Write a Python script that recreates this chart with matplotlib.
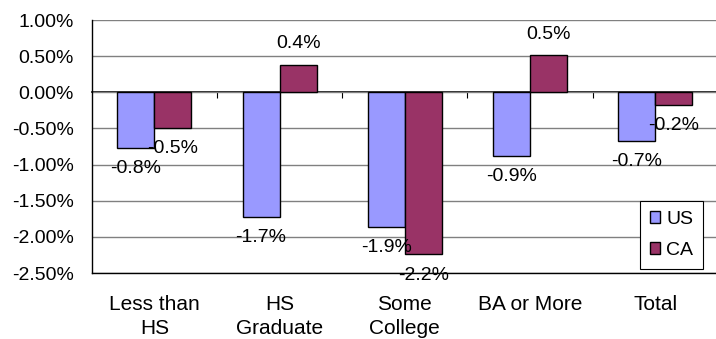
"""
Change in employment share by education level, US vs CA.
Grouped bar chart with value labels at the bar ends.
"""

import matplotlib

matplotlib.use("Agg")
import matplotlib.pyplot as plt
import numpy as np
from matplotlib.patches import Patch
from matplotlib.ticker import FuncFormatter, MultipleLocator

CATEGORIES = ["Less than\nHS", "HS\nGraduate", "Some\nCollege", "BA or More", "Total"]
US_CHANGE = [-0.77, -1.72, -1.86, -0.88, -0.67]
CA_CHANGE = [-0.49, 0.38, -2.24, 0.51, -0.17]
SERIES_NAMES = ["US", "CA"]

US_COLOR = "#9999FF"
CA_COLOR = "#993366"
GRID_COLOR = "#808080"
FONT_SIZE = 14

plt.rcParams["font.family"] = ["Liberation Sans", "DejaVu Sans"]


def label_bars(ax, bars, values):
    """Write the rounded value just beyond the end of each bar."""
    for bar, value in zip(bars, values):
        x = bar.get_x() + bar.get_width() / 2
        offset = 15 if value >= 0 else -15
        ax.annotate(
            f"{value:.1f}%",
            xy=(x, value),
            xytext=(0, offset),
            textcoords="offset points",
            ha="center",
            va="center",
            fontsize=FONT_SIZE,
            zorder=5,
        )


def plot_chart(out="out.png"):
    fig = plt.figure(figsize=(7.16, 3.39), dpi=100)
    ax = fig.add_axes([91.7 / 716, 1 - 273 / 339, 626.3 / 716, 253 / 339])

    x = np.arange(len(CATEGORIES))
    width = 0.295

    us_bars = ax.bar(x - width / 2, US_CHANGE, width, color=US_COLOR,
                     edgecolor="black", linewidth=1.0, zorder=3)
    ca_bars = ax.bar(x + width / 2, CA_CHANGE, width, color=CA_COLOR,
                     edgecolor="black", linewidth=1.0, zorder=3)
    label_bars(ax, us_bars, US_CHANGE)
    label_bars(ax, ca_bars, CA_CHANGE)

    ax.set_xlim(-0.5, len(CATEGORIES) - 0.5)
    ax.set_ylim(-2.5, 1.0)
    ax.yaxis.set_major_locator(MultipleLocator(0.5))
    ax.yaxis.set_major_formatter(FuncFormatter(lambda v, _: f"{v:.2f}%"))
    ax.grid(axis="y", color=GRID_COLOR, linewidth=1.0, zorder=0)
    ax.set_axisbelow(True)

    ax.set_xticks(x)
    ax.set_xticklabels(CATEGORIES, fontsize=15, linespacing=1.35)
    ax.tick_params(axis="x", length=0, pad=16)
    ax.tick_params(axis="y", length=0, pad=13, labelsize=FONT_SIZE)

    for side in ("top", "right"):
        ax.spines[side].set_visible(False)
    for side in ("left", "bottom"):
        ax.spines[side].set_color("black")
        ax.spines[side].set_linewidth(1.0)

    # category axis line sits on zero, with ticks between groups
    y0, y1 = ax.get_ylim()
    zero_axis = ax.secondary_xaxis((0 - y0) / (y1 - y0))
    zero_axis.set_alignment("bottom")
    zero_axis.set_xticks(x[:-1] + 0.5)
    zero_axis.tick_params(direction="out", length=4.5, width=0.8,
                          labelbottom=False, labeltop=False, color="black")
    zero_axis.spines["bottom"].set_color("black")
    zero_axis.spines["bottom"].set_linewidth(1.2)

    handles = [
        Patch(facecolor=US_COLOR, edgecolor="black", linewidth=1.0),
        Patch(facecolor=CA_COLOR, edgecolor="black", linewidth=1.0),
    ]
    leg = ax.legend(
        handles, SERIES_NAMES,
        loc="lower right", bbox_to_anchor=(0.976, 0.016),
        fontsize=FONT_SIZE, fancybox=False, framealpha=1.0,
        handlelength=0.55, handleheight=0.55, handletextpad=0.3,
        borderpad=0.5, labelspacing=0.75, borderaxespad=0.0,
    )
    leg.get_frame().set_edgecolor("black")
    leg.get_frame().set_linewidth(0.8)
    leg.set_zorder(6)

    fig.savefig(out, dpi=100)
    plt.close(fig)


if __name__ == "__main__":
    plot_chart()
